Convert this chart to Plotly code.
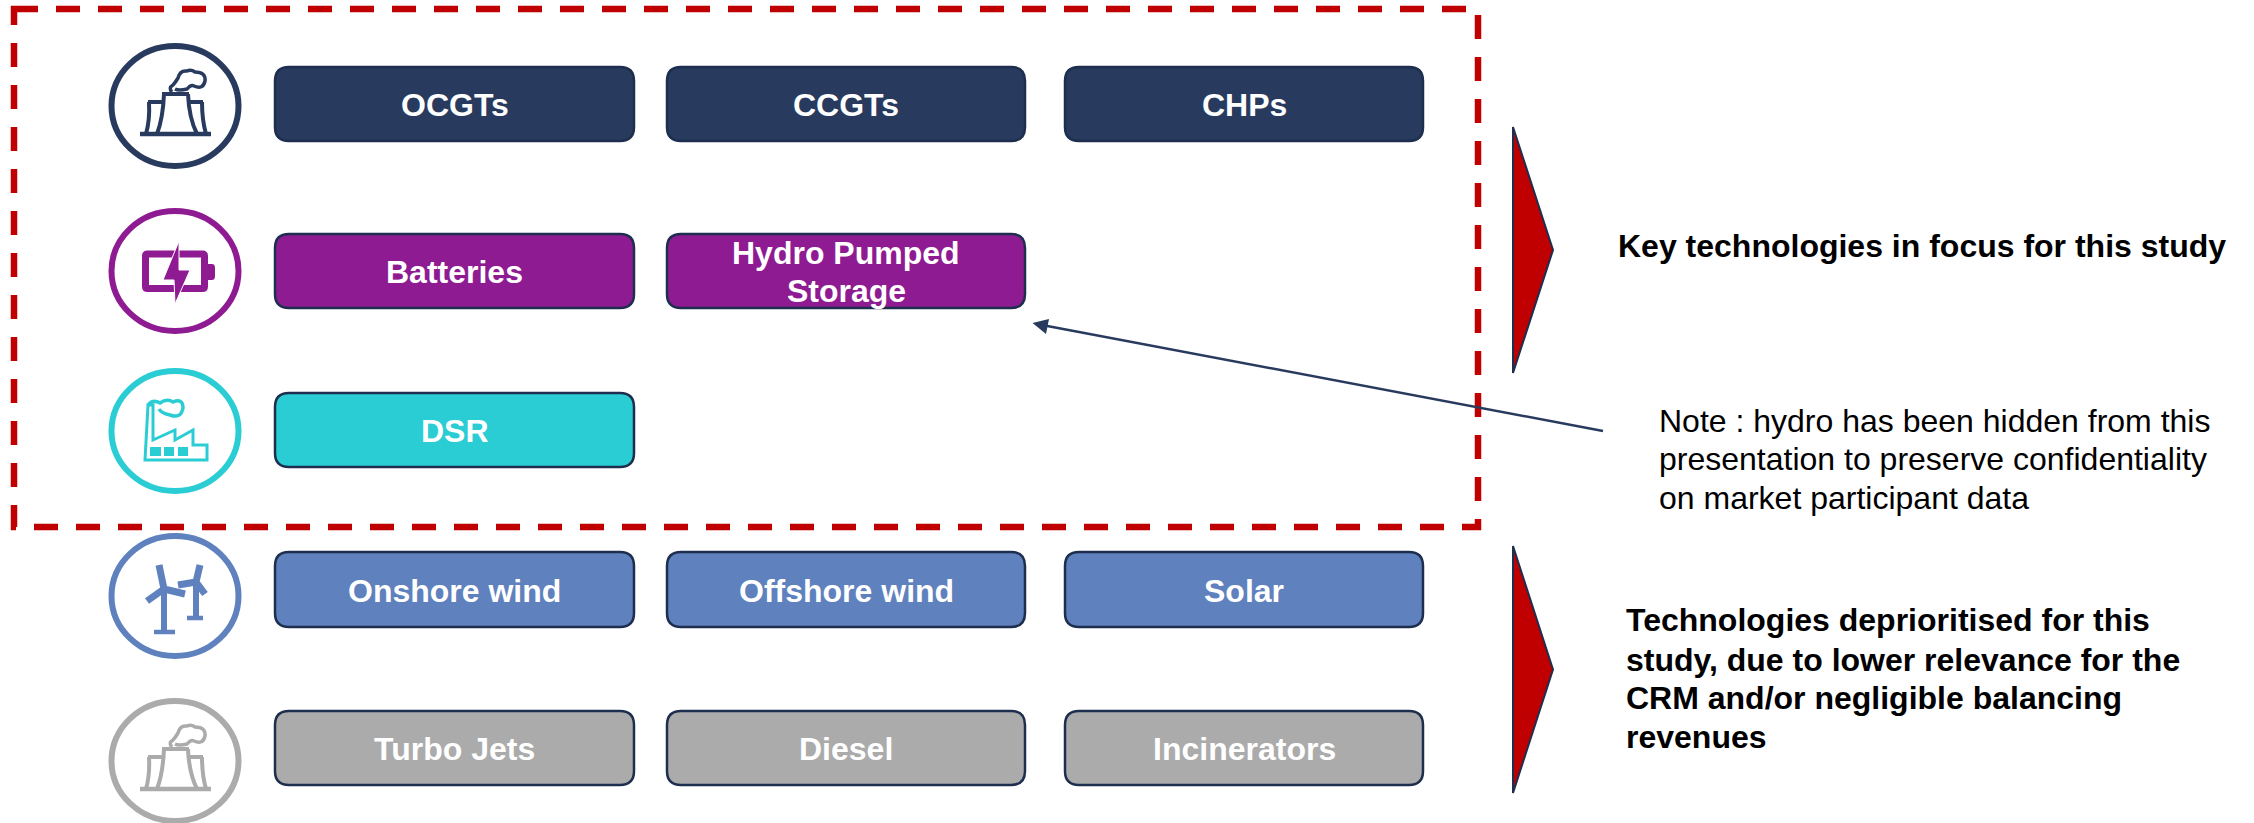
import re
import plotly.graph_objects as go

# ---- content ----
ROW_LABELS = [
    ["OCGTs", "CCGTs", "CHPs"],
    ["Batteries", "Hydro Pumped<br>Storage"],
    ["DSR"],
    ["Onshore wind", "Offshore wind", "Solar"],
    ["Turbo Jets", "Diesel", "Incinerators"],
]
ROW_ICONS = ["plant", "battery", "factory", "wind", "plant"]
ROW_COLORS = ["#283b5e", "#8f1b92", "#2bcdd5", "#5f81be", "#ababab"]
HEADING_FOCUS = ["Key technologies in focus for this study"]
HEADING_DEPRIORITISED = [
    "Technologies deprioritised for this",
    "study, due to lower relevance for the",
    "CRM and/or negligible balancing",
    "revenues",
]
NOTE = [
    "Note : hydro has been hidden from this",
    "presentation to preserve confidentiality",
    "on market participant data",
]

# ---- layout (pixel space of the slide) ----
W, H = 2254, 823
COL_X = [(275, 634), (667, 1025), (1065, 1423)]
ROW_Y = [(67, 141), (234, 308), (393, 467), (552, 627), (711, 785)]
ICON_Y = [106, 271, 431, 596, 761]
ICON_X = 175
BORDER = "#1e2e4e"
NAVY = "#283b5e"
RED = "#c00000"
FONT = "Liberation Sans"

shapes, annotations = [], []


def shift(path, cx, cy):
    """Translate an icon path (given relative to the icon centre) to its slot."""
    def rep(m):
        return f"{float(m.group(1)) + cx:.1f},{float(m.group(2)) + cy:.1f}"
    return re.sub(r"(-?\d+\.?\d*)[ ,](-?\d+\.?\d*)", rep, path)


def stroke(path, cx, cy, color, width):
    shapes.append(dict(type="path", path=shift(path, cx, cy), xref="x", yref="y",
                       line=dict(color=color, width=width), fillcolor="rgba(0,0,0,0)"))


def fill(path, cx, cy, color, edge=None, width=0):
    shapes.append(dict(type="path", path=shift(path, cx, cy), xref="x", yref="y",
                       line=dict(color=edge or color, width=width), fillcolor=color))


def rounded(x0, y0, x1, y1, r):
    return (f"M {x0+r},{y0} L {x1-r},{y0} Q {x1},{y0} {x1},{y0+r} L {x1},{y1-r} "
            f"Q {x1},{y1} {x1-r},{y1} L {x0+r},{y1} Q {x0},{y1} {x0},{y1-r} "
            f"L {x0},{y0+r} Q {x0},{y0} {x0+r},{y0} Z")


def text(x, y, s, size, color, bold=False, anchor="left"):
    annotations.append(dict(x=x, y=y, xref="x", yref="y", text=f"<b>{s}</b>" if bold else s,
                            showarrow=False, xanchor=anchor, yanchor="middle", align=anchor,
                            font=dict(family=FONT, size=size, color=color)))


def icon_plant(cx, cy, c):
    stroke("M -35,28 L 36,28", cx, cy, c, 4.5)
    stroke("M -13,-12 L 14,-12 M -11,-12 Q -12,12 -18,28 M 13,-12 Q 14,12 22,28", cx, cy, c, 4)
    stroke("M -27,-4 L -13,-4 M -26,-4 Q -25,14 -29,28 M 15,-4 L 28,-4 M 27,-4 Q 27,14 31,28", cx, cy, c, 4)
    stroke("M -3,-14 Q -7,-18 -2,-21 Q 0,-23 3,-28 Q 5,-36 12,-35 Q 16,-37 20,-34 "
           "Q 31,-34 30,-25 Q 28,-16 19,-20 Q 16,-22 12,-17 Q 4,-15 0,-17", cx, cy, c, 3.5)


def icon_battery(cx, cy, c):
    stroke(rounded(-29.5, -17, 29.5, 17.5, 2), cx, cy, c, 7)
    fill("M 33,-7 L 37,-7 Q 40,-7 40,-3 L 40,5 Q 40,9 37,9 L 33,9 Z", cx, cy, c)
    fill("M 4,-30 L -12,9 L -1,9 L 0,33 L 15,-1 L 4,-1 Z", cx, cy, c, "#ffffff", 1)


def icon_factory(cx, cy, c):
    stroke("M -30,29 L -27,-26 L -22,-26 L -22,9 L 0,-1 L 0,9 L 18,-1 L 18,14 L 32,14 L 32,29 Z", cx, cy, c, 3)
    stroke("M -27,-26 Q -22,-32 -15,-28 Q -8,-33 -2,-29 Q 8,-33 8,-23 Q 6,-12 -5,-16 Q -14,-18 -16,-22", cx, cy, c, 3.5)
    for x0, x1 in ((-25, -14), (-11, -1), (3, 13)):
        fill(f"M {x0},16 L {x1},16 L {x1},25 L {x0},25 Z", cx, cy, c)


def icon_wind(cx, cy, c):
    stroke("M -11,-7 L -11,36 M 21,-14 L 21,22", cx, cy, c, 6)
    stroke("M -21,36 L 0,36 M 12,22 L 28,22", cx, cy, c, 4.5)
    stroke("M -11,-7 L -16,-31 M -11,-7 L -28,5 M -11,-7 L 10,-2", cx, cy, c, 7)
    stroke("M 21,-14 L 25,-31 M 21,-14 L 3,-11 M 21,-14 L 30,-2", cx, cy, c, 7)


ICONS = {"plant": icon_plant, "battery": icon_battery, "factory": icon_factory, "wind": icon_wind}

# dashed focus frame
shapes.append(dict(type="path", xref="x", yref="y",
                   path="M 14,9 L 1478,9 L 1478,527 L 14,527 Z",
                   line=dict(color=RED, width=6.5, dash="24px,18px")))

# rows
for r, labels in enumerate(ROW_LABELS):
    color = ROW_COLORS[r]
    shapes.append(dict(type="circle", xref="x", yref="y",
                       x0=ICON_X - 63.5, x1=ICON_X + 63.5,
                       y0=ICON_Y[r] - 60, y1=ICON_Y[r] + 60,
                       line=dict(color=color, width=6), fillcolor="#ffffff"))
    ICONS[ROW_ICONS[r]](ICON_X, ICON_Y[r], color)
    y0, y1 = ROW_Y[r]
    for c, label in enumerate(labels):
        x0, x1 = COL_X[c]
        shapes.append(dict(type="path", xref="x", yref="y", path=rounded(x0, y0, x1, y1, 14),
                           fillcolor=color, line=dict(color=BORDER, width=2.5)))
        parts = label.split("<br>")
        mid = (x0 + x1) / 2
        ymid = (y0 + y1) / 2
        if len(parts) == 2:
            text(mid, ymid - 18, parts[0], 32, "#ffffff", True, "center")
            text(mid, ymid + 20, parts[1], 32, "#ffffff", True, "center")
        else:
            text(mid, ymid + 1, label, 32, "#ffffff", True, "center")

# red chevrons
for top, bottom in ((127, 373), (546, 793)):
    shapes.append(dict(type="path", xref="x", yref="y",
                       path=f"M 1513,{top} L 1553,{(top+bottom)/2} L 1513,{bottom} Z",
                       fillcolor=RED, line=dict(color=BORDER, width=2)))

# note arrow
shapes.append(dict(type="line", xref="x", yref="y", x0=1603, y0=431, x1=1042, y1=325,
                   line=dict(color=NAVY, width=2.5)))
shapes.append(dict(type="path", xref="x", yref="y",
                   path="M 1032.5,323 L 1049,319 L 1046,334 Z", fillcolor=NAVY,
                   line=dict(color=NAVY, width=0)))

# right-hand texts
for s, y in zip(HEADING_FOCUS, [246]):
    text(1616, y, s, 32, "#000000", True)
for s, y in zip(HEADING_DEPRIORITISED, [620, 660, 698, 737]):
    text(1624, y, s, 32, "#000000", True)
for s, y in zip(NOTE, [421, 459, 498]):
    text(1657, y, s, 32, "#000000")

fig = go.Figure()
fig.update_layout(
    width=W, height=H, margin=dict(l=0, r=0, t=0, b=0), autosize=False,
    paper_bgcolor="#ffffff", plot_bgcolor="#ffffff", showlegend=False,
    xaxis=dict(range=[0, W], visible=False, fixedrange=True),
    yaxis=dict(range=[H, 0], visible=False, fixedrange=True),
    shapes=shapes, annotations=annotations,
)
fig.write_html("out.html", config=dict(displayModeBar=False),
               post_script="document.body.style.margin='0';document.body.style.overflow='hidden';")
